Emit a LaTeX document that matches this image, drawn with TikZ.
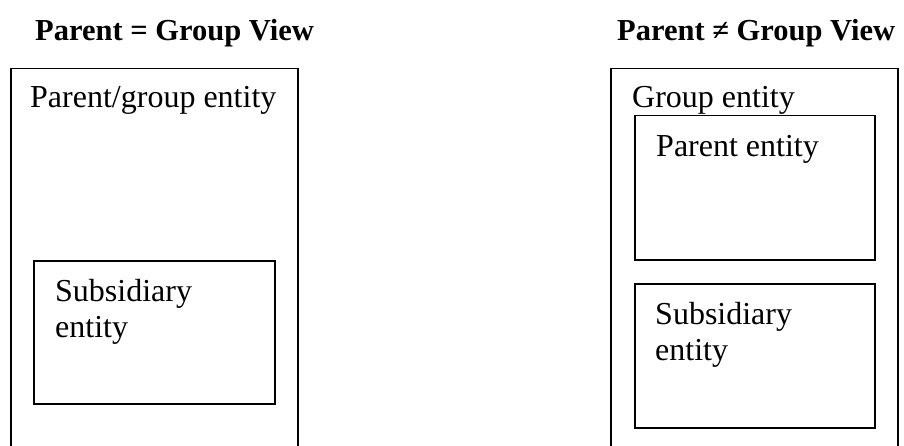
\documentclass[tikz,border=0pt]{standalone}
\usepackage{fontspec}
\setmainfont{Liberation Serif}
\begin{document}
\begin{tikzpicture}[x=1pt,y=-1pt,
  box/.style={draw=black,line width=1.5pt,inner sep=0pt,anchor=north west},
  lbl/.style={anchor=base west,inner sep=0pt,font=\fontsize{32}{36}\selectfont,align=left},
  ttl/.style={anchor=base west,inner sep=0pt,font=\fontsize{30.5}{34}\selectfont\bfseries}]
\clip (0,0) rectangle (904,446);
\fill[white] (0,0) rectangle (904,446);
% titles
\node[ttl] (t1) at (35,41) {Parent = Group View};
\node[ttl] (t2) at (617,41) {Parent ≠ Group View};
% left side
\node[box,minimum width=287pt,minimum height=400pt] (lo) at (10,68) {};
\node[lbl] (lot) at (30,108) {Parent/group entity};
\node[box,minimum width=241pt,minimum height=143pt] (ls) at (33,260) {};
\node[lbl] (lst) at (55,337) {Subsidiary\\[0pt]entity};
% right side
\node[box,minimum width=287pt,minimum height=400pt] (ro) at (610,68) {};
\node[lbl] (rot) at (632,108) {Group entity};
\node[box,minimum width=240pt,minimum height=144pt] (rp) at (634,115) {};
\node[lbl] (rpt) at (656,157) {Parent entity};
\node[box,minimum width=240pt,minimum height=144pt] (rs) at (634,283) {};
\node[lbl] (rst) at (655,360) {Subsidiary\\[0pt]entity};
\end{tikzpicture}
\end{document}
